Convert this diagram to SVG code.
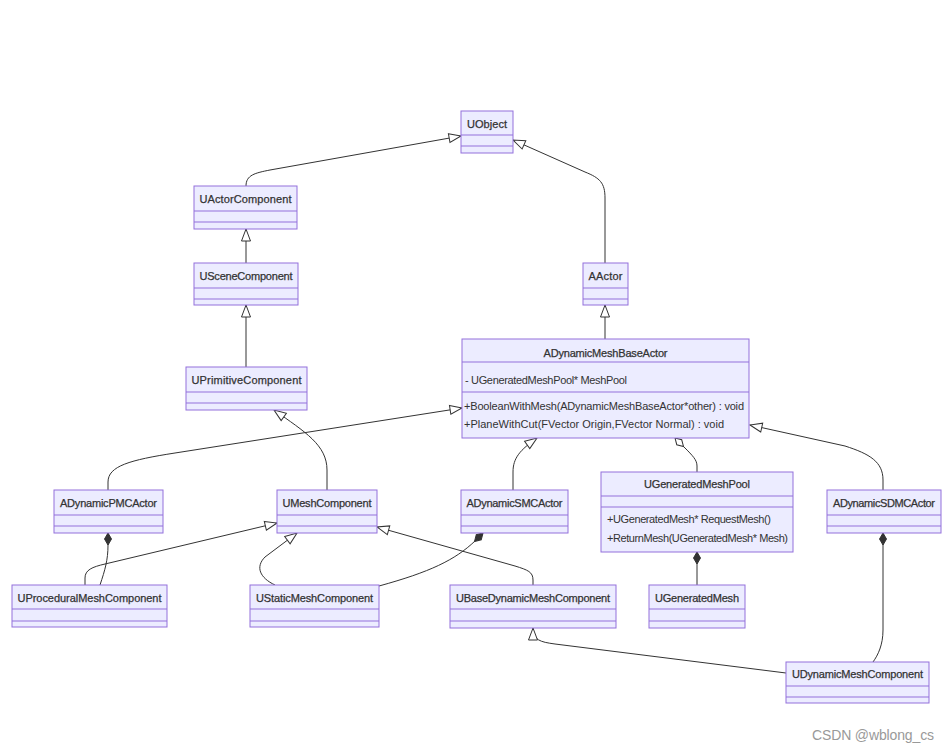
<svg xmlns="http://www.w3.org/2000/svg" width="950" height="752" viewBox="0 0 950 752">
<style>
.box{fill:#ECECFF;stroke:#9370DB;stroke-width:1}
.div{stroke:#9370DB;stroke-width:1}
.t{font-family:"Liberation Sans",Arial,sans-serif;font-size:11px;fill:#333;text-anchor:middle;stroke:#333;stroke-width:0.25}
.m{font-family:"Liberation Sans",Arial,sans-serif;font-size:11px;fill:#333}
.e{fill:none;stroke:#333;stroke-width:1}
.ext{marker-end:url(#tri)}
.comp{marker-start:url(#dia)}
.agg{marker-start:url(#odia)}
.wm{font-family:"Liberation Sans",Arial,sans-serif;font-size:14px;fill:#999}
</style>
<defs>
<marker id="tri" markerUnits="userSpaceOnUse" markerWidth="16" markerHeight="12" refX="12.5" refY="4.5" orient="auto" overflow="visible">
<path d="M0.5,0 L12.5,4.5 L0.5,9 Z" fill="#fff" stroke="#333" stroke-width="1"/>
</marker>
<marker id="dia" markerUnits="userSpaceOnUse" markerWidth="14" markerHeight="10" refX="0" refY="4" orient="auto" overflow="visible">
<path d="M0,4 L6,0.5 L12,4 L6,7.5 Z" fill="#333" stroke="#333" stroke-width="1"/>
</marker>
<marker id="odia" markerUnits="userSpaceOnUse" markerWidth="14" markerHeight="10" refX="0" refY="4" orient="auto" overflow="visible">
<path d="M0,4 L6,0.5 L12,4 L6,7.5 Z" fill="#fff" stroke="#333" stroke-width="1"/>
</marker>
</defs>
<rect width="950" height="752" fill="#fff"/>

<g id="connectors">
<path class="e ext" d="M246,186 C246,175 255,173 270,170 L461,136"/>
<path class="e ext" d="M605,263 L605,198 C605,183 600,178 585,172 L513,140"/>
<path class="e ext" d="M246,263 L246,229"/>
<path class="e ext" d="M246,367 L246,305"/>
<path class="e ext" d="M605,339 L605,305"/>
<path class="e ext" d="M108,490 L108,482 C108,466 130,460 175,453 L462,408"/>
<path class="e ext" d="M327,490 L327,470 C327,445 305,432 274,410"/>
<path class="e ext" d="M513,490 L513,472 C513,458 520,450 537,438"/>
<path class="e agg" d="M675,438 L684,447 C693,456 697,460 697,466 L697,472"/>
<path class="e ext" d="M883,490 L883,480 C883,462 870,454 845,446 L750,425"/>
<path class="e comp" d="M108,533 L108,545 C108,560 105,570 100,585"/>
<path class="e ext" d="M85,585 L85,578 C85,570 92,567 105,564 L277,523"/>
<path class="e ext" d="M275,585 C260,578 255,567 265,557 L297,533"/>
<path class="e comp" d="M483,533 L475,541 C455,560 430,572 379,586"/>
<path class="e ext" d="M533,585 L533,580 C533,572 528,570 515,566 L377,527"/>
<path class="e ext" d="M786,673 L555,644 C540,642 533,640 533,628"/>
<path class="e comp" d="M883,533 L883,545 L883,630 C883,645 878,655 873,662"/>
<path class="e comp" d="M697,552 L697,564 L697,585"/>
</g>

<g id="UObject">
<rect class="box" x="461" y="111" width="52" height="42"/>
<line class="div" x1="461" y1="135" x2="513" y2="135"/><line class="div" x1="461" y1="146" x2="513" y2="146"/>
<text class="t" x="487" y="128" textLength="40">UObject</text>
</g>
<g id="UActorComponent">
<rect class="box" x="194" y="186" width="103" height="43"/>
<line class="div" x1="194" y1="211" x2="297" y2="211"/><line class="div" x1="194" y1="222" x2="297" y2="222"/>
<text class="t" x="245.5" y="203" textLength="92">UActorComponent</text>
</g>
<g id="USceneComponent">
<rect class="box" x="194" y="263" width="104" height="42"/>
<line class="div" x1="194" y1="288" x2="298" y2="288"/><line class="div" x1="194" y1="299" x2="298" y2="299"/>
<text class="t" x="246" y="280" textLength="93">USceneComponent</text>
</g>
<g id="UPrimitiveComponent">
<rect class="box" x="186" y="367" width="121" height="43"/>
<line class="div" x1="186" y1="392" x2="307" y2="392"/><line class="div" x1="186" y1="403" x2="307" y2="403"/>
<text class="t" x="246.5" y="384" textLength="110">UPrimitiveComponent</text>
</g>
<g id="AActor">
<rect class="box" x="583" y="263" width="45" height="42"/>
<line class="div" x1="583" y1="288" x2="628" y2="288"/><line class="div" x1="583" y1="299" x2="628" y2="299"/>
<text class="t" x="605.5" y="280" textLength="34">AActor</text>
</g>
<g id="ADynamicMeshBaseActor">
<rect class="box" x="462" y="339" width="287" height="99"/>
<line class="div" x1="462" y1="362" x2="749" y2="362"/><line class="div" x1="462" y1="392" x2="749" y2="392"/>
<text class="t" x="605.5" y="356.5" textLength="124">ADynamicMeshBaseActor</text>
<text class="m" x="465" y="384" textLength="162">- UGeneratedMeshPool* MeshPool</text>
<text class="m" x="464" y="410" textLength="280">+BooleanWithMesh(ADynamicMeshBaseActor*other) : void</text>
<text class="m" x="464" y="428" textLength="260">+PlaneWithCut(FVector Origin,FVector Normal) : void</text>
</g>
<g id="ADynamicPMCActor">
<rect class="box" x="54" y="490" width="109" height="43"/>
<line class="div" x1="54" y1="515" x2="163" y2="515"/><line class="div" x1="54" y1="526" x2="163" y2="526"/>
<text class="t" x="108.5" y="507" textLength="97">ADynamicPMCActor</text>
</g>
<g id="UMeshComponent">
<rect class="box" x="277" y="490" width="100" height="43"/>
<line class="div" x1="277" y1="515" x2="377" y2="515"/><line class="div" x1="277" y1="526" x2="377" y2="526"/>
<text class="t" x="327" y="507" textLength="89">UMeshComponent</text>
</g>
<g id="ADynamicSMCActor">
<rect class="box" x="461" y="490" width="107" height="43"/>
<line class="div" x1="461" y1="515" x2="568" y2="515"/><line class="div" x1="461" y1="526" x2="568" y2="526"/>
<text class="t" x="514.5" y="507" textLength="96">ADynamicSMCActor</text>
</g>
<g id="UGeneratedMeshPool">
<rect class="box" x="601" y="472" width="192" height="80"/>
<line class="div" x1="601" y1="496" x2="793" y2="496"/><line class="div" x1="601" y1="507" x2="793" y2="507"/>
<text class="t" x="697" y="488" textLength="106">UGeneratedMeshPool</text>
<text class="m" x="607" y="523" textLength="164">+UGeneratedMesh* RequestMesh()</text>
<text class="m" x="607" y="542" textLength="181">+ReturnMesh(UGeneratedMesh* Mesh)</text>
</g>
<g id="ADynamicSDMCActor">
<rect class="box" x="827" y="490" width="114" height="43"/>
<line class="div" x1="827" y1="515" x2="941" y2="515"/><line class="div" x1="827" y1="526" x2="941" y2="526"/>
<text class="t" x="884" y="507" textLength="102">ADynamicSDMCActor</text>
</g>
<g id="UProceduralMeshComponent">
<rect class="box" x="12" y="585" width="155" height="42"/>
<line class="div" x1="12" y1="609" x2="167" y2="609"/><line class="div" x1="12" y1="621" x2="167" y2="621"/>
<text class="t" x="89.5" y="602" textLength="144">UProceduralMeshComponent</text>
</g>
<g id="UStaticMeshComponent">
<rect class="box" x="250" y="585" width="129" height="42"/>
<line class="div" x1="250" y1="609" x2="379" y2="609"/><line class="div" x1="250" y1="621" x2="379" y2="621"/>
<text class="t" x="314.5" y="602" textLength="117">UStaticMeshComponent</text>
</g>
<g id="UBaseDynamicMeshComponent">
<rect class="box" x="450" y="585" width="166" height="43"/>
<line class="div" x1="450" y1="609" x2="616" y2="609"/><line class="div" x1="450" y1="621" x2="616" y2="621"/>
<text class="t" x="533" y="602" textLength="154">UBaseDynamicMeshComponent</text>
</g>
<g id="UGeneratedMesh">
<rect class="box" x="649" y="585" width="96" height="43"/>
<line class="div" x1="649" y1="609" x2="745" y2="609"/><line class="div" x1="649" y1="621" x2="745" y2="621"/>
<text class="t" x="697" y="602" textLength="84">UGeneratedMesh</text>
</g>
<g id="UDynamicMeshComponent">
<rect class="box" x="786" y="662" width="143" height="41"/>
<line class="div" x1="786" y1="686" x2="929" y2="686"/><line class="div" x1="786" y1="697" x2="929" y2="697"/>
<text class="t" x="857.5" y="678" textLength="131">UDynamicMeshComponent</text>
</g>
<text class="wm" x="812" y="740" textLength="122">CSDN @wblong_cs</text>
</svg>
